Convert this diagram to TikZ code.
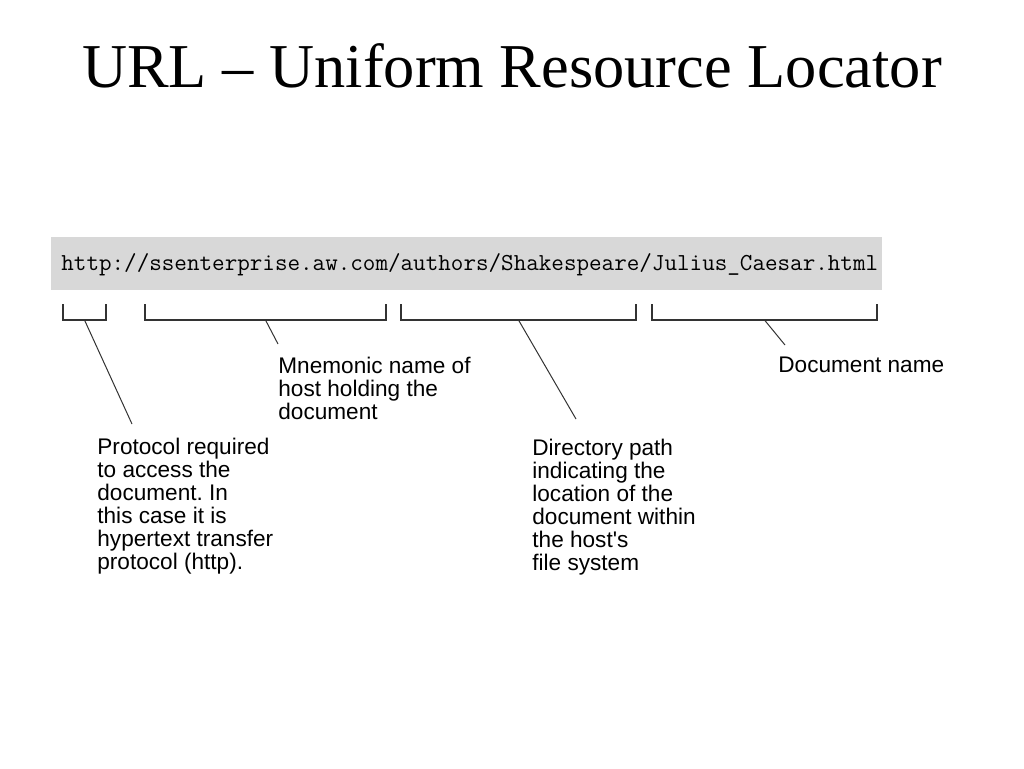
\documentclass[tikz,border=0pt]{standalone}
\usepackage{fontspec}
\setmainfont{Liberation Serif}
\setsansfont{Liberation Sans}
\definecolor{urlgray}{HTML}{D8D8D8}
\definecolor{inkgray}{HTML}{333333}

\tikzset{
  bracket/.style={draw=inkgray, line width=0.75pt},
  leader/.style={draw=inkgray, line width=0.5pt},
  note/.style={font=\sffamily\fontsize{11.3}{11.5}\selectfont, align=left,
               anchor=north west, inner sep=0pt},
}

\begin{document}
\frenchspacing
\begin{tikzpicture}[x=0.5pt,y=-0.5pt]
  \useasboundingbox (0,0) rectangle (1024,768);

  \node (title) at (512,87) [anchor=base, inner sep=0pt,
        font=\rmfamily\fontsize{31.2}{38}\selectfont] {URL -- Uniform Resource Locator};

  \fill [urlgray] (51,237) rectangle (882,290);
  \node (url) at (61,270) [anchor=base west, inner sep=0pt,
        font=\ttfamily\fontsize{12.2}{14}\selectfont]
        {http://ssenterprise.aw.com/authors/Shakespeare/Julius\_Caesar.html};

  % brackets under the parts of the address
  \foreach \l/\r/\n in {63/106/prot, 145/386/host, 401/636/dir, 652/877/doc} {
    \draw [bracket] (\l,304) |- (\r,320) -- (\r,304);
    \coordinate (\n) at ({(\l+\r)/2},320);
  }

  \node (protnote) at (97,438) [note] {Protocol required\\to access the\\document. In\\this case it is\\hypertext transfer\\protocol (http).};
  \node (hostnote) at (278,357) [note] {Mnemonic name of\\host holding the\\document};
  \node (dirnote) at (532,439) [note] {Directory path\\indicating the\\location of the\\document within\\the host\textquotesingle s\\file system};
  \node (docnote) at (778,357) [note] {Document name};

  \coordinate (protend) at (132,424);
  \coordinate (hostend) at (278,344);
  \coordinate (dirend) at (576,419);
  \coordinate (docend) at (785,345);

  \draw [leader] (prot) -- (protend);
  \draw [leader] (host) -- (hostend);
  \draw [leader] (dir) -- (dirend);
  \draw [leader] (doc) -- (docend);
\end{tikzpicture}
\end{document}
